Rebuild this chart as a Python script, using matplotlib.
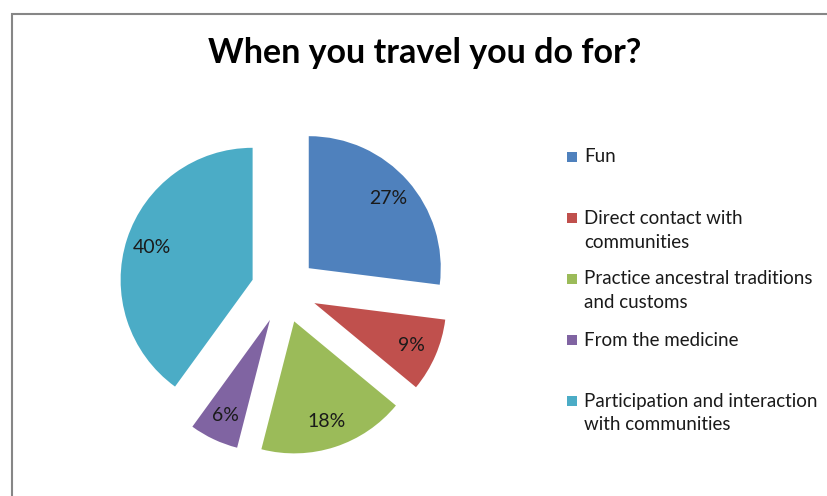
import matplotlib
matplotlib.use('Agg')
import matplotlib.pyplot as plt
from matplotlib.patches import Rectangle

# 数据
labels = ['Fun', 'Direct contact with\ncommunities', 'Practice ancestral traditions\nand customs',
          'From the medicine', 'Participation and interaction\nwith communities']
values = [27, 9, 18, 6, 40]
colors = ['#4F81BD', '#C0504D', '#9BBB59', '#8064A2', '#4BACC6']
title = 'When you travel you do for?'

plt.rcParams['font.family'] = ['Lato', 'DejaVu Sans']

W, H = 828, 496
fig = plt.figure(figsize=(W / 100, H / 100), dpi=100)
# 整个画布用像素坐标
ax = fig.add_axes([0, 0, 1, 1])

# 外框
ax.add_patch(Rectangle((12, -50), 1000, H - 14 + 50, fill=False, edgecolor='#868686', linewidth=1.5))

wedges, texts, autotexts = ax.pie(values, colors=colors, startangle=90, counterclock=False,
                                  center=(284, H - 290), radius=132, explode=[33] * len(values),
                                  autopct=lambda p: '%.0f%%' % p, pctdistance=0.8,
                                  textprops={'fontsize': 14, 'color': '#1a1a1a'},
                                  wedgeprops={'linewidth': 0}, frame=True)
ax.set_xlim(0, W)
ax.set_ylim(0, H)
ax.set_aspect('auto')
ax.axis('off')

ax.text(425, H - 63, title, ha='center', va='baseline', fontsize=24.5, fontweight='bold', color='black')

# 图例（手动摆放）
for i, (lab, c) in enumerate(zip(labels, colors)):
    y0 = H - 157 - i * 61
    ax.add_patch(Rectangle((567, y0 - 5), 10, 10, facecolor=c, edgecolor='none'))
    for j, line in enumerate(lab.split('\n')):
        ax.text(584, y0 - j * 24, line, ha='left', va='center', fontsize=13.5, color='#1a1a1a')

fig.savefig('out.png', dpi=100)
